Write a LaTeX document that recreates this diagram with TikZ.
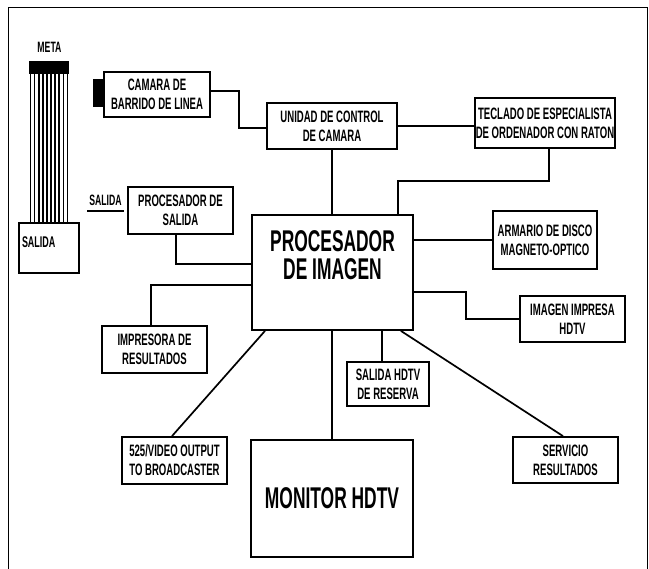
\documentclass[tikz,border=0pt]{standalone}
\usepackage{fontspec}
\setmainfont[FakeStretch=0.58]{Liberation Sans}
\begin{document}
\begin{tikzpicture}[x=1pt,y=-1pt,
  box/.style={draw,line width=1.8pt,rectangle,inner sep=0pt,align=center,
    font=\bfseries\fontsize{16.5}{19}\selectfont},
  bigbox/.style={box,font=\bfseries\fontsize{30}{28}\selectfont},
  conn/.style={line width=1.7pt},
  lbl/.style={inner sep=0pt,font=\bfseries\fontsize{15}{16}\selectfont}]
\useasboundingbox (0,0) rectangle (649,569);
% frame
\draw[line width=1pt] (8,569) -- (8,8) -- (647,8) -- (647,569);
% meta strip
\node[lbl] (meta) at (49.5,47.5) {META};
\node[fill=black,inner sep=0pt,minimum width=40pt,minimum height=13pt] (metabar) at (49,67.5) {};
\node[box,minimum width=60pt,minimum height=50pt,text width=54pt,align=left] (sal) at (49,248)
  {\raisebox{11pt}{\fontsize{15.5}{17}\selectfont SALIDA}};
\foreach \i in {0,...,9}
  \draw[line width=1.6pt] (30.5+4.1*\i,74) -- (30.5+4.1*\i,223);
% boxes
\node[fill=black,inner sep=0pt,minimum width=11pt,minimum height=28pt] (camtab) at (98.5,93) {};
\node[box,minimum width=106pt,minimum height=45pt] (cam) at (157,94.5) {CAMARA DE\\BARRIDO DE LINEA};
\node[box,minimum width=130pt,minimum height=46pt] (ucc) at (332,126) {UNIDAD DE CONTROL\\DE CAMARA};
\node[box,minimum width=140pt,minimum height=50pt] (tec) at (545,123) {TECLADO DE ESPECIALISTA\\DE ORDENADOR CON RATON};
\node[bigbox,minimum width=161pt,minimum height=115pt] (pi) at (332.5,272.5) {PROCESADOR\\DE IMAGEN\\[6pt]};
\node[box,minimum width=104pt,minimum height=58pt] (arm) at (545,240) {ARMARIO DE DISCO\\MAGNETO-OPTICO};
\node[box,minimum width=105pt,minimum height=46pt] (img) at (572.5,319) {IMAGEN IMPRESA\\HDTV};
\node[box,minimum width=105pt,minimum height=46pt] (serv) at (565.5,460) {SERVICIO\\RESULTADOS};
\node[box,minimum width=82pt,minimum height=44pt] (shd) at (388,384) {SALIDA HDTV\\DE RESERVA};
\node[bigbox,minimum width=162pt,minimum height=117pt] (mon) at (332,498.5) {MONITOR HDTV};
\node[box,minimum width=105pt,minimum height=47pt] (vid) at (174.5,460.5) {525/VIDEO OUTPUT\\TO BROADCASTER};
\node[box,minimum width=105pt,minimum height=47pt] (imp) at (154.5,349.5) {IMPRESORA DE\\RESULTADOS};
\node[box,minimum width=105pt,minimum height=47pt] (pds) at (180.5,210.5) {PROCESADOR DE\\SALIDA};
\node[lbl] (sallbl) at (105.5,200) {SALIDA};
\draw[line width=1.4pt] (87,211) coordinate (ul1) -- (124,211) coordinate (ul2);
% connectors
\draw[conn] ([yshift=3.5pt]cam.east) -- ++(28,0) |- ([yshift=-2pt]ucc.west);
\draw[conn] (ucc.east) -- (ucc.east -| tec.west);
\draw[conn] (ucc.south) -- (ucc.south |- pi.north);
\draw[conn] ([xshift=4pt]tec.south) -- ++(0,32) -| ([xshift=65.5pt]pi.north);
\draw[conn] (arm.west) -- (arm.west -| pi.east);
\draw[conn] ([yshift=-19.5pt]pi.east) -- ++(52,0) |- (img.west);
\draw[conn] ([xshift=-13pt]pi.south east) -- ([xshift=-2.5pt]serv.north);
\draw[conn] ([xshift=-6pt]shd.north) -- ([xshift=-6pt]shd.north |- pi.south);
\draw[conn] (pi.south -| mon.north) -- (mon.north);
\draw[conn] ([xshift=-67.5pt]pi.south) -- ([xshift=-2.5pt]vid.north);
\draw[conn] ([xshift=-3.5pt]imp.north) |- ([yshift=-12.5pt]pi.west);
\draw[conn] ([xshift=-4.5pt]pds.south) |- ([yshift=8.5pt]pi.west);
\end{tikzpicture}
\end{document}
